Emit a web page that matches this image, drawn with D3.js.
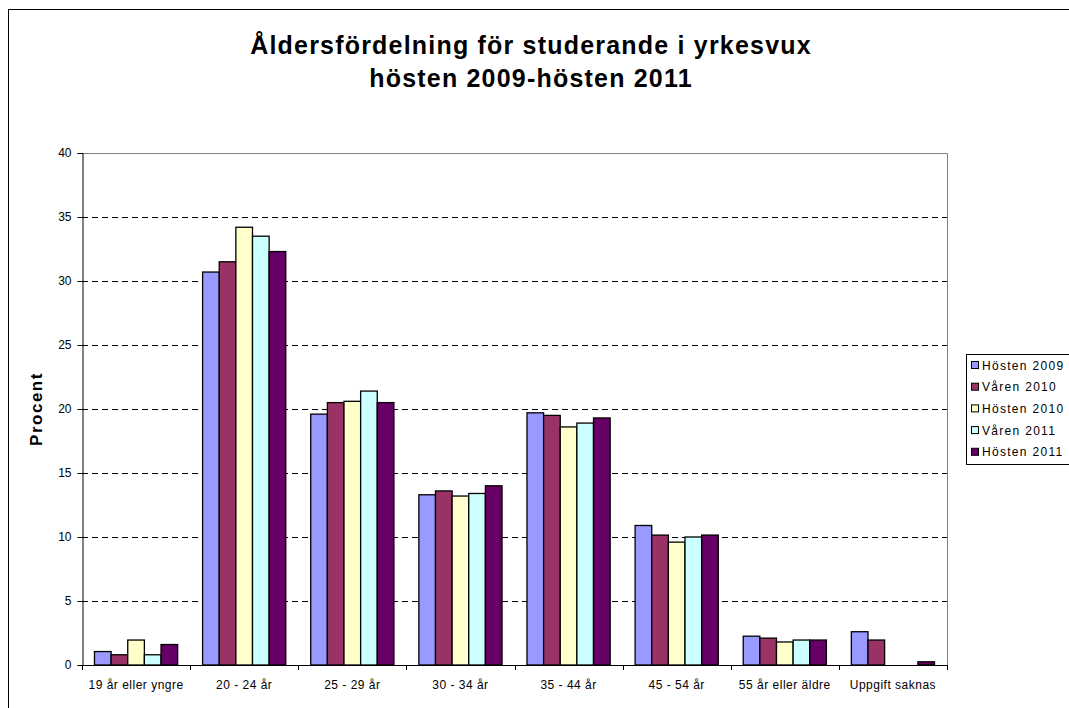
<!DOCTYPE html>
<html>
<head>
<meta charset="utf-8">
<script src="https://cdn.jsdelivr.net/npm/d3@7"></script>
<style>
  body { margin: 0; background: #fff; }
  svg { font-family: "Liberation Sans", Arial, sans-serif; display: block; }
</style>
</head>
<body>
<svg width="1069" height="708"></svg>
<script>
// categories and series
var categories = ["19 år eller yngre", "20 - 24 år", "25 - 29 år", "30 - 34 år",
                  "35 - 44 år", "45 - 54 år", "55 år eller äldre", "Uppgift saknas"];
var seriesNames = ["Hösten 2009", "Våren 2010", "Hösten 2010", "Våren 2011", "Hösten 2011"];
var hosten2009 = [1.05, 30.7, 19.6, 13.3, 19.7, 10.9, 2.25, 2.6];
var varen2010  = [0.8, 31.5, 20.5, 13.6, 19.5, 10.15, 2.1, 1.95];
var hosten2010 = [1.95, 34.2, 20.6, 13.2, 18.6, 9.6, 1.8, 0];
var varen2011  = [0.8, 33.5, 21.4, 13.4, 18.9, 10.0, 1.95, 0];
var hosten2011 = [1.6, 32.3, 20.5, 14.0, 19.3, 10.15, 1.95, 0.25];
var yTicks = [0, 5, 10, 15, 20, 25, 30, 35, 40];
var colors = ["#9999FF", "#993366", "#FFFFCC", "#CCFFFF", "#660066"];

var seriesValues = [hosten2009, varen2010, hosten2010, varen2011, hosten2011];

function main() {
  var svg = d3.select("svg");

  // outer chart border
  svg.append("rect")
     .attr("x", 8.5).attr("y", 9.5)
     .attr("width", 1080).attr("height", 720)
     .attr("fill", "#fff").attr("stroke", "#000").attr("stroke-width", 1);

  var pLeft = 82, pTop = 153, pRight = 947, pBottom = 665;

  var x0 = d3.scaleBand().domain(categories).range([pLeft, pRight])
             .paddingInner(1.5 / 6.5).paddingOuter(0.75 / 6.5);
  var x1 = d3.scaleBand().domain(seriesNames).range([0, x0.bandwidth()]);
  var y = d3.scaleLinear().domain([0, 40]).range([pBottom, pTop]);

  // gridlines
  svg.append("g").selectAll("line")
     .data(yTicks.filter(function(d) { return d > 0 && d < 40; }))
     .enter().append("line")
     .attr("x1", pLeft).attr("x2", pRight)
     .attr("y1", function(d) { return Math.round(y(d)) + 0.5; })
     .attr("y2", function(d) { return Math.round(y(d)) + 0.5; })
     .attr("stroke", "#000").attr("stroke-dasharray", "6,4");

  // plot border top / right
  svg.append("path")
     .attr("d", "M" + pLeft + "," + (pTop + 0.5) + "H" + (pRight + 0.5) + "V" + pBottom)
     .attr("fill", "none").attr("stroke", "#808080");

  // bars
  var groups = svg.append("g").selectAll("g")
     .data(seriesNames)
     .enter().append("g")
     .attr("fill", function(d, i) { return colors[i]; });

  groups.selectAll("rect")
     .data(function(d, i) {
       return seriesValues[i]
         .map(function(v, j) { return { s: d, c: categories[j], v: v }; })
         .filter(function(o) { return o.v > 0; });
     })
     .enter().append("rect")
     .attr("x", function(d) { return x0(d.c) + x1(d.s); })
     .attr("y", function(d) { return y(d.v); })
     .attr("width", x1.bandwidth())
     .attr("height", function(d) { return pBottom - y(d.v); })
     .attr("stroke", "#000").attr("stroke-width", 1.3);

  // y axis
  var yAxis = svg.append("g")
     .attr("transform", "translate(" + (pLeft + 0.5) + ",0)")
     .call(d3.axisLeft(y).tickValues(yTicks).tickSize(5).tickPadding(6));
  yAxis.select(".domain").attr("stroke", "#000");
  yAxis.selectAll("text")
     .attr("font-size", "12px")
     .attr("font-family", "Liberation Sans, Arial, sans-serif")
     .attr("fill", "#000");

  // x axis
  var catEdges = categories.map(function(c) { return x0(c) - x0.step() * x0.paddingOuter(); });
  catEdges.push(pRight);
  var xAxisG = svg.append("g");
  xAxisG.append("line")
     .attr("x1", pLeft).attr("x2", pRight)
     .attr("y1", pBottom + 0.5).attr("y2", pBottom + 0.5)
     .attr("stroke", "#000");
  xAxisG.selectAll(".tk").data(catEdges).enter().append("line")
     .attr("x1", function(d) { return Math.round(d) + 0.5; })
     .attr("x2", function(d) { return Math.round(d) + 0.5; })
     .attr("y1", pBottom).attr("y2", pBottom + 5)
     .attr("stroke", "#000");
  xAxisG.selectAll("text").data(categories).enter().append("text")
     .attr("x", function(d) { return x0(d) + x0.bandwidth() / 2; })
     .attr("y", pBottom + 24)
     .attr("text-anchor", "middle")
     .attr("font-size", "12px")
     .attr("letter-spacing", "0.5px")
     .text(function(d) { return d; });

  // titles
  svg.append("text").attr("x", 531).attr("y", 54).attr("text-anchor", "middle")
     .attr("font-size", "25px").attr("font-weight", "bold").attr("letter-spacing", "1.2px")
     .text("Åldersfördelning för studerande i yrkesvux");
  svg.append("text").attr("x", 531).attr("y", 87).attr("text-anchor", "middle")
     .attr("font-size", "25px").attr("font-weight", "bold").attr("letter-spacing", "1.2px")
     .text("hösten 2009-hösten 2011");

  svg.append("text")
     .attr("transform", "translate(42,409) rotate(-90)")
     .attr("text-anchor", "middle")
     .attr("font-size", "17px").attr("font-weight", "bold").attr("letter-spacing", "1.5px")
     .text("Procent");

  // legend
  var legend = svg.append("g");
  legend.append("rect")
     .attr("x", 966.5).attr("y", 354.5).attr("width", 120).attr("height", 110)
     .attr("fill", "#fff").attr("stroke", "#000");
  var li = legend.selectAll(".li").data(seriesNames).enter().append("g")
     .attr("transform", function(d, i) { return "translate(971," + (365 + i * 21.7) + ")"; });
  li.append("rect")
     .attr("x", 0.5).attr("y", -3.5).attr("width", 7).attr("height", 7)
     .attr("fill", function(d, i) { return colors[i]; })
     .attr("stroke", "#000");
  li.append("text")
     .attr("x", 11).attr("y", 4.5)
     .attr("font-size", "12px").attr("letter-spacing", "1.3px")
     .text(function(d) { return d; });
}

main();
</script>
</body>
</html>
